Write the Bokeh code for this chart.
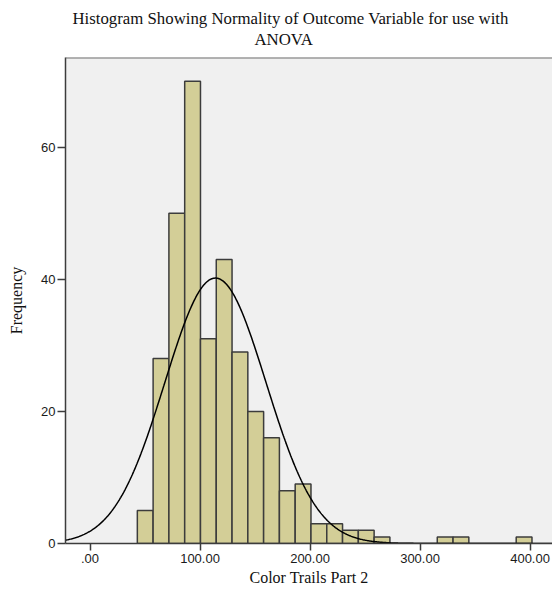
import numpy as np
from bokeh.plotting import figure
from bokeh.models import Range1d, FixedTicker, Title, Span
from bokeh.embed import file_html
from bokeh.resources import INLINE

# ---- data ----
bin_start = 43.0
bin_width = 14.35
counts = [5, 28, 50, 70, 31, 43, 29, 20, 16, 8, 9, 3, 3, 2, 2, 1,
          0, 0, 0, 1, 1, 0, 0, 0, 1]
curve_mean = 114.0
curve_sd = 46.0
x_ticks = [0, 100, 200, 300, 400]
x_tick_labels = [".00", "100.00", "200.00", "300.00", "400.00"]
y_ticks = [0, 20, 40, 60]
title_line1 = "Histogram Showing Normality of Outcome Variable for use with"
title_line2 = "ANOVA"
x_label = "Color Trails Part 2"
y_label = "Frequency"

lefts = [bin_start + i * bin_width for i in range(len(counts))]
rights = [l + bin_width for l in lefts]
n_total = sum(counts)

x_min, x_max = -22.3, 420.4
y_min, y_max = 0, 73.6

p = figure(width=552, height=593, output_backend="svg", toolbar_location=None,
           x_range=Range1d(x_min, x_max), y_range=Range1d(y_min, y_max),
           min_border_left=65, min_border_right=0, min_border_top=57,
           min_border_bottom=50, title=None)

p.background_fill_color = "#F0F0F0"
p.border_fill_color = "white"
p.outline_line_color = None
p.grid.visible = False

p.quad(left=lefts, right=rights, bottom=0, top=counts,
       fill_color="#D3CE97", line_color="#3c3c3c", line_width=1.5)

xs = np.linspace(x_min, x_max, 600)
ys = n_total * bin_width / (curve_sd * np.sqrt(2 * np.pi)) * np.exp(-0.5 * ((xs - curve_mean) / curve_sd) ** 2)
p.line(xs, ys, line_color="black", line_width=1.5)

# top border of frame
p.add_layout(Span(location=y_max, dimension="width", line_color="#6e6e6e", line_width=2))

for ax in (p.xaxis[0], p.yaxis[0]):
    ax.axis_line_color = "#3c3c3c"
    ax.axis_line_width = 1.5
    ax.major_tick_line_color = "#3c3c3c"
    ax.major_tick_line_width = 1.5
    ax.major_tick_in = 0
    ax.minor_tick_line_color = None
    ax.major_label_text_font = "Liberation Sans"
    ax.major_label_text_font_size = "13px"
    ax.major_label_text_color = "#1a1a1a"
    ax.axis_label_text_font = "Liberation Serif"
    ax.axis_label_text_font_size = "16px"
    ax.axis_label_text_font_style = "normal"
    ax.axis_label_text_color = "#111111"

p.xaxis.ticker = FixedTicker(ticks=x_ticks)
p.xaxis.major_label_overrides = {t: s for t, s in zip(x_ticks, x_tick_labels)}
p.xaxis.axis_label = x_label
p.xaxis.major_tick_out = 7
p.xaxis.major_label_standoff = 3
p.xaxis.axis_label_standoff = 3

p.yaxis.ticker = FixedTicker(ticks=y_ticks)
p.yaxis.axis_label = y_label
p.yaxis.major_tick_out = 8
p.yaxis.major_label_standoff = 2
p.yaxis.axis_label_standoff = 13

p.add_layout(Title(text=title_line2, align="left", offset=189,
                   text_font="Liberation Serif", text_font_size="16.8px",
                   text_font_style="normal", text_color="#111111", standoff=17), "above")
p.add_layout(Title(text=title_line1, align="left", offset=7,
                   text_font="Liberation Serif", text_font_size="16.8px",
                   text_font_style="normal", text_color="#111111", standoff=-17), "above")

open("out.html", "w").write(file_html(p, INLINE))
